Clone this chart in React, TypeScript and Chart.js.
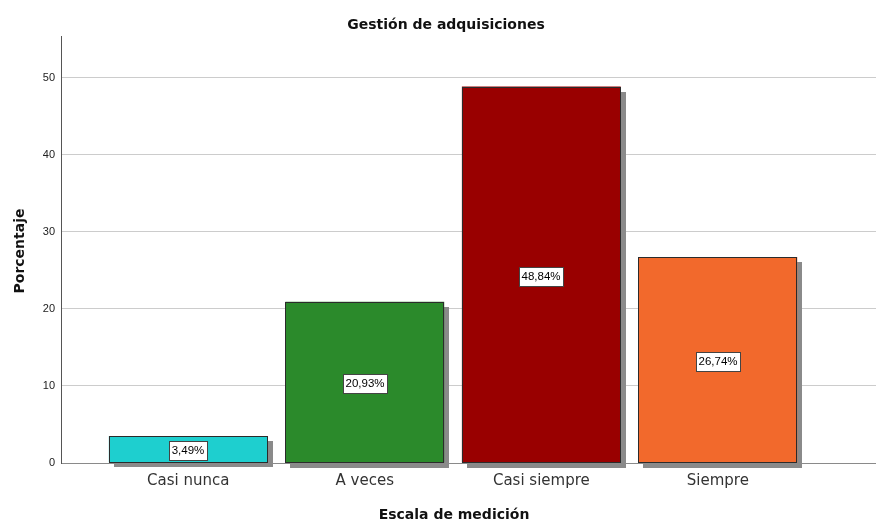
import React, { useEffect, useRef } from 'react';
import { Chart, registerables } from 'chart.js';

Chart.register(...registerables);

const categories = ['Casi nunca', 'A veces', 'Casi siempre', 'Siempre'];
const percentages = [3.49, 20.93, 48.84, 26.74];
const barColors = ['#1ECFCF', '#2B8A2B', '#990000', '#F2692C'];
const yTicks = [0, 10, 20, 30, 40, 50];
const chartTitle = 'Gestión de adquisiciones';
const xTitle = 'Escala de medición';
const yTitle = 'Porcentaje';

const fmt = (v: number) => v.toFixed(2).replace('.', ',') + '%';

const TITLE_FONT = 'bold 14px "DejaVu Sans", sans-serif';
const LABEL_FONT = '11.5px "Liberation Sans", Arial, sans-serif';

export default function App() {
  const ref = useRef<HTMLCanvasElement>(null);

  useEffect(() => {
    if (!ref.current) return;

    const decor = {
      id: 'decor',
      beforeDatasetsDraw(chart: any) {
        const ctx = chart.ctx;
        const meta = chart.getDatasetMeta(0);
        ctx.save();
        ctx.fillStyle = '#8a8a8a';
        meta.data.forEach((bar: any) => {
          const { x, y, base, width } = bar.getProps(['x', 'y', 'base', 'width'], true);
          ctx.fillRect(Math.round(x - width / 2) + 5, Math.round(y) + 5, Math.round(width), Math.round(base - y));
        });
        ctx.restore();
      },
      afterDatasetsDraw(chart: any) {
        const ctx = chart.ctx;
        const meta = chart.getDatasetMeta(0);
        ctx.save();
        // crisp outlines
        ctx.strokeStyle = '#2b2b2b';
        ctx.lineWidth = 1;
        meta.data.forEach((bar: any) => {
          const { x, y, base, width } = bar.getProps(['x', 'y', 'base', 'width'], true);
          const l = Math.round(x - width / 2) + 0.5;
          const t = Math.round(y) + 0.5;
          const w = Math.round(width) - 1;
          const h = Math.round(base) - Math.round(y) - 1;
          ctx.strokeRect(l, t, w, h);
        });
        ctx.font = LABEL_FONT;
        ctx.textAlign = 'center';
        ctx.textBaseline = 'middle';
        meta.data.forEach((bar: any, i: number) => {
          const { x, y, base } = bar.getProps(['x', 'y', 'base'], true);
          const text = fmt(percentages[i]);
          const tw = ctx.measureText(text).width;
          const w = Math.round(tw + 5);
          const h = 19;
          const cx = Math.round(x);
          const cy = Math.round((y + base) / 2) + 1;
          const bx = Math.round(cx - w / 2) + 0.5;
          const by = Math.round(cy - h / 2) + 0.5;
          ctx.fillStyle = '#ffffff';
          ctx.fillRect(bx, by, w, h);
          ctx.strokeStyle = '#444444';
          ctx.lineWidth = 1;
          ctx.strokeRect(bx, by, w, h);
          ctx.fillStyle = '#000000';
          ctx.fillText(text, cx, cy + 1);
        });
        ctx.restore();
      },
      afterDraw(chart: any) {
        const ctx = chart.ctx;
        ctx.save();
        ctx.fillStyle = '#111111';
        ctx.font = TITLE_FONT;
        ctx.textAlign = 'center';
        ctx.textBaseline = 'alphabetic';
        ctx.fillText(chartTitle, 446, 29);
        ctx.fillText(xTitle, 454, 519);
        ctx.translate(24, 251);
        ctx.rotate(-Math.PI / 2);
        ctx.fillText(yTitle, 0, 0);
        ctx.restore();
      },
    };

    const chart = new Chart(ref.current, {
      type: 'bar',
      data: {
        datasets: [
          {
            data: percentages.map((v, i) => ({ x: i, y: v })),
            backgroundColor: barColors,
            borderWidth: 0,
            categoryPercentage: 1,
            barPercentage: 0.9,
            clip: false as any,
          },
        ],
      },
      options: {
        responsive: false,
        animation: false,
        layout: { padding: { top: 36, left: 0, right: 0, bottom: 0 } },
        plugins: {
          legend: { display: false },
          tooltip: { enabled: false },
          title: { display: false },
        },
        scales: {
          x: {
            type: 'linear',
            offset: false,
            min: -0.721,
            max: 3.896,
            afterBuildTicks: (s: any) => {
              s.ticks = categories.map((_, i) => ({ value: i }));
            },
            afterFit: (s: any) => {
              s.height = 58;
            },
            grid: { display: false, drawTicks: false, offset: false },
            border: { display: true, color: '#8a8a8a', width: 1 },
            ticks: {
              autoSkip: false,
              maxRotation: 0,
              padding: 9,
              color: '#333333',
              font: { family: '"DejaVu Sans", sans-serif', size: 15 },
              callback: (v: any) => categories[v as number] ?? '',
            },
          },
          y: {
            type: 'linear',
            min: 0,
            max: 55.4,
            afterBuildTicks: (s: any) => {
              s.ticks = yTicks.map((v) => ({ value: v }));
            },
            afterFit: (s: any) => {
              s.width = 61;
            },
            grid: { color: '#cccccc', lineWidth: 1, drawTicks: false },
            border: { display: true, color: '#555555', width: 1 },
            ticks: {
              padding: 6,
              color: '#222222',
              font: { family: '"Liberation Sans", Arial, sans-serif', size: 11 },
            },
          },
        },
      },
      plugins: [decor],
    });

    return () => chart.destroy();
  }, []);

  return (
    <canvas
      ref={ref}
      width={876}
      height={521}
      style={{ position: 'absolute', left: 0, top: 0, width: 876, height: 521 }}
    />
  );
}
